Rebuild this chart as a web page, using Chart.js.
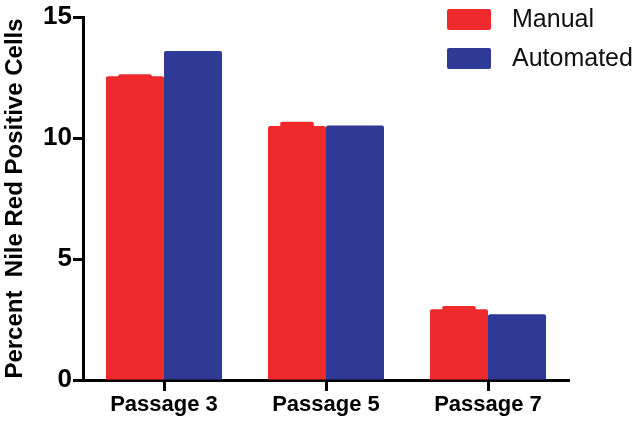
<!DOCTYPE html>
<html>
<head>
<meta charset="utf-8">
<script src="https://cdn.jsdelivr.net/npm/chart.js@4"></script>
<style>
    html, body { margin: 0; padding: 0; background: #fff; }
    #wrap { width: 644px; height: 428px; }
</style>
</head>
<body>
<div id="wrap"><canvas id="bar-chart" width="644" height="428"></canvas></div>
<script>
// Chart data
const categories = ['Passage 3', 'Passage 5', 'Passage 7'];
const manualValues = [12.55, 10.5, 2.92];
const manualErrors = [0.08, 0.17, 0.14];
const automatedValues = [13.6, 10.52, 2.72];
const automatedErrors = [0, 0, 0];
const yTicks = [0, 5, 10, 15];

const RED = '#EF2A2C';
const BLUE = '#2F3996';
const FONT = "'Liberation Sans', Arial, Helvetica, sans-serif";

// Draw upper error caps on top of each bar
const errorBars = {
    id: 'errorBars',
    afterDatasetsDraw(chart) {
        const ctx = chart.ctx;
        const yScale = chart.scales.y;
        chart.data.datasets.forEach((ds, di) => {
            const meta = chart.getDatasetMeta(di);
            meta.data.forEach((bar, i) => {
                const err = ds.errors[i];
                if (!err) return;
                const top = yScale.getPixelForValue(ds.data[i] + err);
                const base = yScale.getPixelForValue(ds.data[i]);
                const w = bar.width * 0.58;
                ctx.save();
                ctx.fillStyle = ds.backgroundColor;
                ctx.beginPath();
                ctx.roundRect(bar.x - w / 2, top, w, base - top + 2, 2);
                ctx.fill();
                ctx.restore();
            });
        });
    }
};

// Legend in the top right corner
const cornerLegend = {
    id: 'cornerLegend',
    afterDraw(chart) {
        const ctx = chart.ctx;
        ctx.save();
        chart.data.datasets.forEach((ds, i) => {
            const y = 9 + i * 39;
            ctx.fillStyle = ds.backgroundColor;
            ctx.beginPath();
            ctx.roundRect(447, y, 44, 21, 2);
            ctx.fill();
            ctx.fillStyle = '#111';
            ctx.font = '25px ' + FONT;
            ctx.textBaseline = 'middle';
            ctx.fillText(ds.label, 512, y + 11);
        });
        ctx.restore();
    }
};

new Chart(document.getElementById('bar-chart'), {
    type: 'bar',
    data: {
        labels: categories,
        datasets: [
            {
                label: 'Manual',
                data: manualValues,
                errors: manualErrors,
                backgroundColor: RED,
                borderRadius: 2,
                borderSkipped: 'bottom',
                categoryPercentage: 0.716,
                barPercentage: 1.0
            },
            {
                label: 'Automated',
                data: automatedValues,
                errors: automatedErrors,
                backgroundColor: BLUE,
                borderRadius: 2,
                borderSkipped: 'bottom',
                categoryPercentage: 0.716,
                barPercentage: 1.0
            }
        ]
    },
    options: {
        responsive: false,
        animation: false,
        devicePixelRatio: 1,
        layout: { padding: { top: 17, right: 75, bottom: 0, left: 0 } },
        plugins: {
            legend: { display: false },
            tooltip: { enabled: false }
        },
        scales: {
            x: {
                offset: true,
                border: { display: true, color: '#000', width: 3 },
                grid: {
                    offset: false,
                    drawOnChartArea: false,
                    drawTicks: true,
                    tickLength: 11,
                    tickWidth: 3,
                    tickColor: '#000'
                },
                ticks: {
                    color: '#000',
                    padding: 1,
                    font: { family: FONT, size: 22, weight: 'bold' }
                },
                afterFit(scale) {
                    scale.height = 48;
                    scale.paddingLeft = 0;
                    scale.paddingRight = 0;
                }
            },
            y: {
                min: 0,
                max: 15,
                border: { display: true, color: '#000', width: 3 },
                grid: {
                    drawOnChartArea: false,
                    drawTicks: true,
                    tickLength: 10,
                    tickWidth: 3,
                    tickColor: '#000'
                },
                ticks: {
                    color: '#000',
                    padding: 1,
                    font: { family: FONT, size: 26, weight: 'bold' }
                },
                afterBuildTicks(scale) {
                    scale.ticks = yTicks.map(v => ({ value: v }));
                },
                title: {
                    display: true,
                    text: 'Percent  Nile Red Positive Cells',
                    color: '#000',
                    padding: { top: 1, bottom: 0 },
                    font: { family: FONT, size: 24, weight: 'bold' }
                },
                afterFit(scale) {
                    scale.width = 83;
                    scale.paddingTop = 0;
                    scale.paddingBottom = 0;
                }
            }
        }
    },
    plugins: [errorBars, cornerLegend]
});
</script>
</body>
</html>
